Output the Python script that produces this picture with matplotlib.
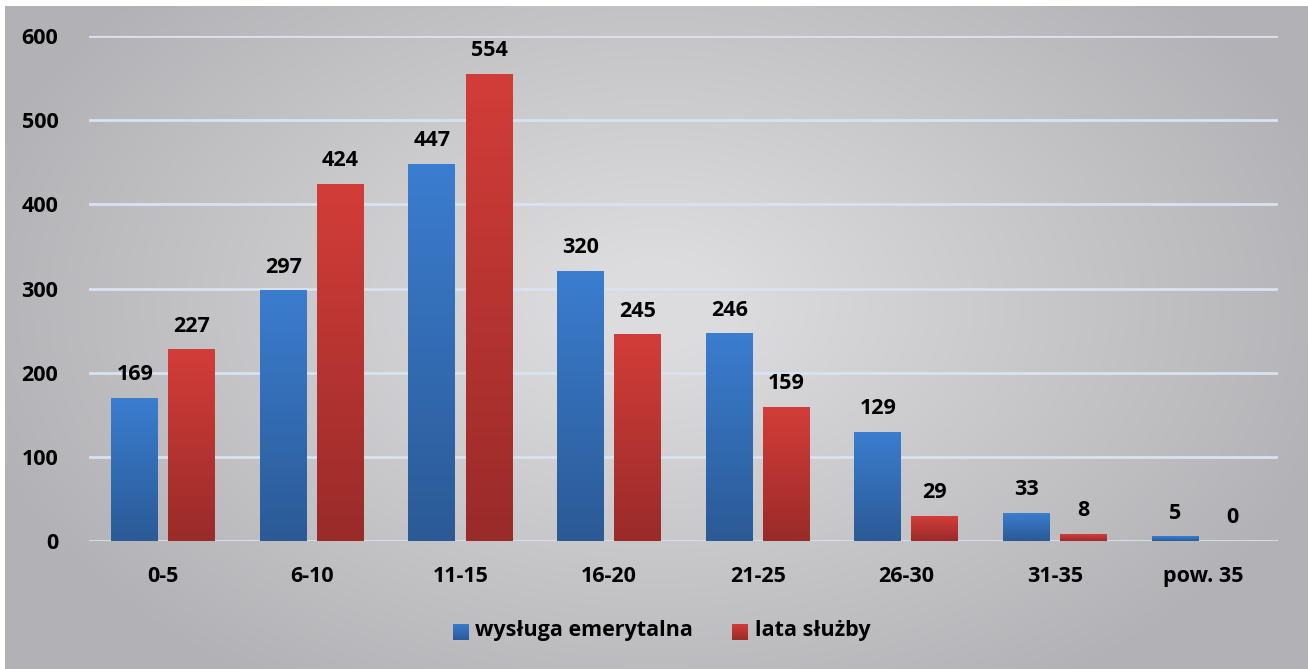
import numpy as np
import matplotlib.pyplot as plt
from matplotlib.colors import LinearSegmentedColormap

plt.rcParams['font.family'] = ['Open Sans', 'DejaVu Sans']
plt.rcParams['font.weight'] = 'bold'

categories = ['0-5', '6-10', '11-15', '16-20', '21-25', '26-30', '31-35', 'pow. 35']
wysluga = [169, 297, 447, 320, 246, 129, 33, 5]
lata_sluzby = [227, 424, 554, 245, 159, 29, 8, 0]
series_names = ['wysługa emerytalna', 'lata służby']

blue_cmap = LinearSegmentedColormap.from_list('blue', ['#2b5a96', '#3b7dcf'])
red_cmap = LinearSegmentedColormap.from_list('red', ['#992b29', '#d33d39'])

fig = plt.figure(figsize=(13.08, 6.69), dpi=100)

# background: soft radial grey gradient, with a thin white margin top/left
bg = fig.add_axes([0, 0, 1, 1], zorder=-10)
yy, xx = np.mgrid[0:1:300j, 0:1:600j]
r = np.sqrt(((xx - 0.5) / 0.55) ** 2 + ((yy - 0.55) / 0.7) ** 2)
bg_cmap = LinearSegmentedColormap.from_list('bg', ['#dcdcde', '#b2b2b6'])
bg.imshow(r, cmap=bg_cmap, extent=[0.004, 1, 0, 0.991], origin='lower',
          aspect='auto', vmin=0.1, vmax=1.0)
bg.set_xlim(0, 1)
bg.set_ylim(0, 1)
bg.axis('off')

ax = fig.add_axes([0.068, 0.191, 0.909, 0.755])
ax.set_facecolor('none')

grad = np.linspace(0, 1, 256).reshape(-1, 1)
width = 0.316
offset = 0.192
fs = 15.5


def gradient_bar(x, h, cmap):
    if h <= 0:
        return
    ax.imshow(grad, cmap=cmap, extent=[x - width / 2, x + width / 2, 0, h],
              origin='lower', aspect='auto', zorder=3)


x = np.arange(len(categories)) + 0.5
for i in range(len(categories)):
    gradient_bar(x[i] - offset, wysluga[i], blue_cmap)
    gradient_bar(x[i] + offset, lata_sluzby[i], red_cmap)
    ax.text(x[i] - offset, wysluga[i] + 16, str(wysluga[i]), ha='center',
            va='bottom', fontsize=fs, fontweight='bold', color='black')
    ax.text(x[i] + offset, lata_sluzby[i] + 16, str(lata_sluzby[i]), ha='center',
            va='bottom', fontsize=fs, fontweight='bold', color='black')

ax.set_xlim(0, len(categories))
ax.set_ylim(0, 600)
ax.set_yticks(np.arange(0, 601, 100))
ax.set_xticks(x)
ax.set_xticklabels(categories)
ax.tick_params(length=0, labelsize=fs, pad=22, axis='y')
ax.tick_params(length=0, labelsize=fs, pad=18, axis='x')
ax.yaxis.grid(True, color='#d8e3f0', linewidth=2, zorder=1)
ax.set_axisbelow(True)
for s in ax.spines.values():
    s.set_visible(False)

# legend with small gradient squares
leg_y = 0.044
items = [(0.346, blue_cmap, series_names[0]), (0.56, red_cmap, series_names[1])]
for lx, cmap, label in items:
    sq = fig.add_axes([lx, leg_y, 0.0118, 0.024])
    sq.imshow(grad, cmap=cmap, origin='lower', aspect='auto')
    sq.axis('off')
    fig.text(lx + 0.017, leg_y + 0.013, label, ha='left', va='center',
             fontsize=fs, fontweight='bold', color='black')

fig.savefig('out.png', dpi=100)
